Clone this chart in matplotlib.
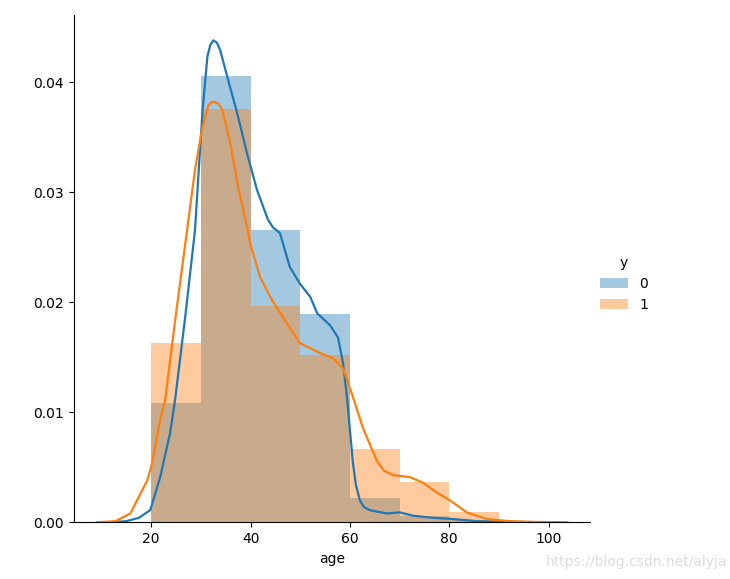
import numpy as np
import matplotlib
matplotlib.use("Agg")
import matplotlib.pyplot as plt
from matplotlib.patches import Patch

# histogram bins (age) and densities
bin_edges = [20, 30, 40, 50, 60, 70, 80, 90]
hist_0 = [0.0108, 0.0406, 0.0266, 0.0189, 0.0022, 0.0006, 0.0002]
hist_1 = [0.0163, 0.0376, 0.0197, 0.0152, 0.0067, 0.0037, 0.0009]

# kde curves
kde_0_x = [12.0, 15.0, 17.5, 19.8, 21.8, 23.8, 24.8, 26.8, 28.8, 30.3, 31.3, 31.9, 32.5,
           33.2, 33.9, 35.3, 37.3, 39.3, 41.3, 43.5, 44.5, 45.9, 47.9, 49.9, 52.0,
           53.4, 56.0, 57.6, 58.6, 59.4, 60.0, 60.6, 61.2, 62.0, 62.8, 64.0, 67.4,
           70.0, 72.7, 76.7, 80.7, 85.5, 90.2, 96.0, 102.2]
kde_0_y = [0.0, 0.0001, 0.0004, 0.0011, 0.0041, 0.0081, 0.0111, 0.0185, 0.0265, 0.0372,
           0.0423, 0.0434, 0.0438, 0.0436, 0.0429, 0.0405, 0.0372, 0.0335, 0.0302,
           0.0275, 0.0268, 0.0263, 0.0232, 0.0217, 0.0205, 0.0190, 0.0179, 0.0168,
           0.0145, 0.0114, 0.0084, 0.0054, 0.0034, 0.0020, 0.0014, 0.0011, 0.0008,
           0.0009, 0.0006, 0.0004, 0.0003, 0.0001, 0.00005, 0.00002, 0.0]
kde_1_x = [9.1, 12.8, 15.8, 19.2, 20.2, 21.8, 22.8, 25.0, 27.2, 28.8, 30.3, 31.5, 32.2,
           32.9, 33.6, 34.3, 35.9, 37.5, 39.3, 39.9, 41.9, 44.3, 47.3, 49.9, 53.4,
           56.6, 58.6, 60.6, 62.6, 65.4, 66.8, 68.6, 72.1, 74.7, 77.5, 80.1, 83.5,
           87.5, 92.2, 97.0, 103.8]
kde_1_y = [0.0, 0.0001, 0.0008, 0.0038, 0.0054, 0.0093, 0.0111, 0.0190, 0.0265, 0.0320,
           0.0359, 0.0379, 0.0382, 0.0382, 0.0380, 0.0375, 0.0345, 0.0305, 0.0268,
           0.0254, 0.0223, 0.0202, 0.0181, 0.0163, 0.0155, 0.0149, 0.0140, 0.0114,
           0.0086, 0.0056, 0.0047, 0.0043, 0.0041, 0.0036, 0.0027, 0.0020, 0.0009,
           0.0003, 0.0001, 0.00003, 0.0]

hue_labels = ["0", "1"]
colors = ["#1f77b4", "#ff7f0e"]

fig = plt.figure(figsize=(7.3, 5.79), dpi=100)
ax = fig.add_axes([0.101, 0.098, 0.707, 0.876])

widths = np.diff(bin_edges)
for h, c in zip([hist_0, hist_1], colors):
    ax.bar(bin_edges[:-1], h, width=widths, align="edge", color=c, alpha=0.4, linewidth=0)
ax.plot(kde_0_x, kde_0_y, color=colors[0], lw=1.6)
ax.plot(kde_1_x, kde_1_y, color=colors[1], lw=1.6)

ax.set_xlim(4.4, 108.3)
ax.set_ylim(0, 0.0461)
ax.set_xticks([20, 40, 60, 80, 100])
ax.set_yticks([0.0, 0.01, 0.02, 0.03, 0.04])
ax.set_yticklabels(["0.00", "0.01", "0.02", "0.03", "0.04"])
ax.set_xlabel("age")
ax.spines["top"].set_visible(False)
ax.spines["right"].set_visible(False)

handles = [Patch(facecolor=c, alpha=0.4, edgecolor="none") for c in colors]
fig.legend(handles, hue_labels, title="y", frameon=False,
           loc="center left", bbox_to_anchor=(0.805, 0.51))

fig.text(0.996, 0.018, "https://blog.csdn.net/alyja", ha="right", va="bottom",
         color="#dcdcdc", fontsize=10)

fig.savefig("out.png", dpi=100)
